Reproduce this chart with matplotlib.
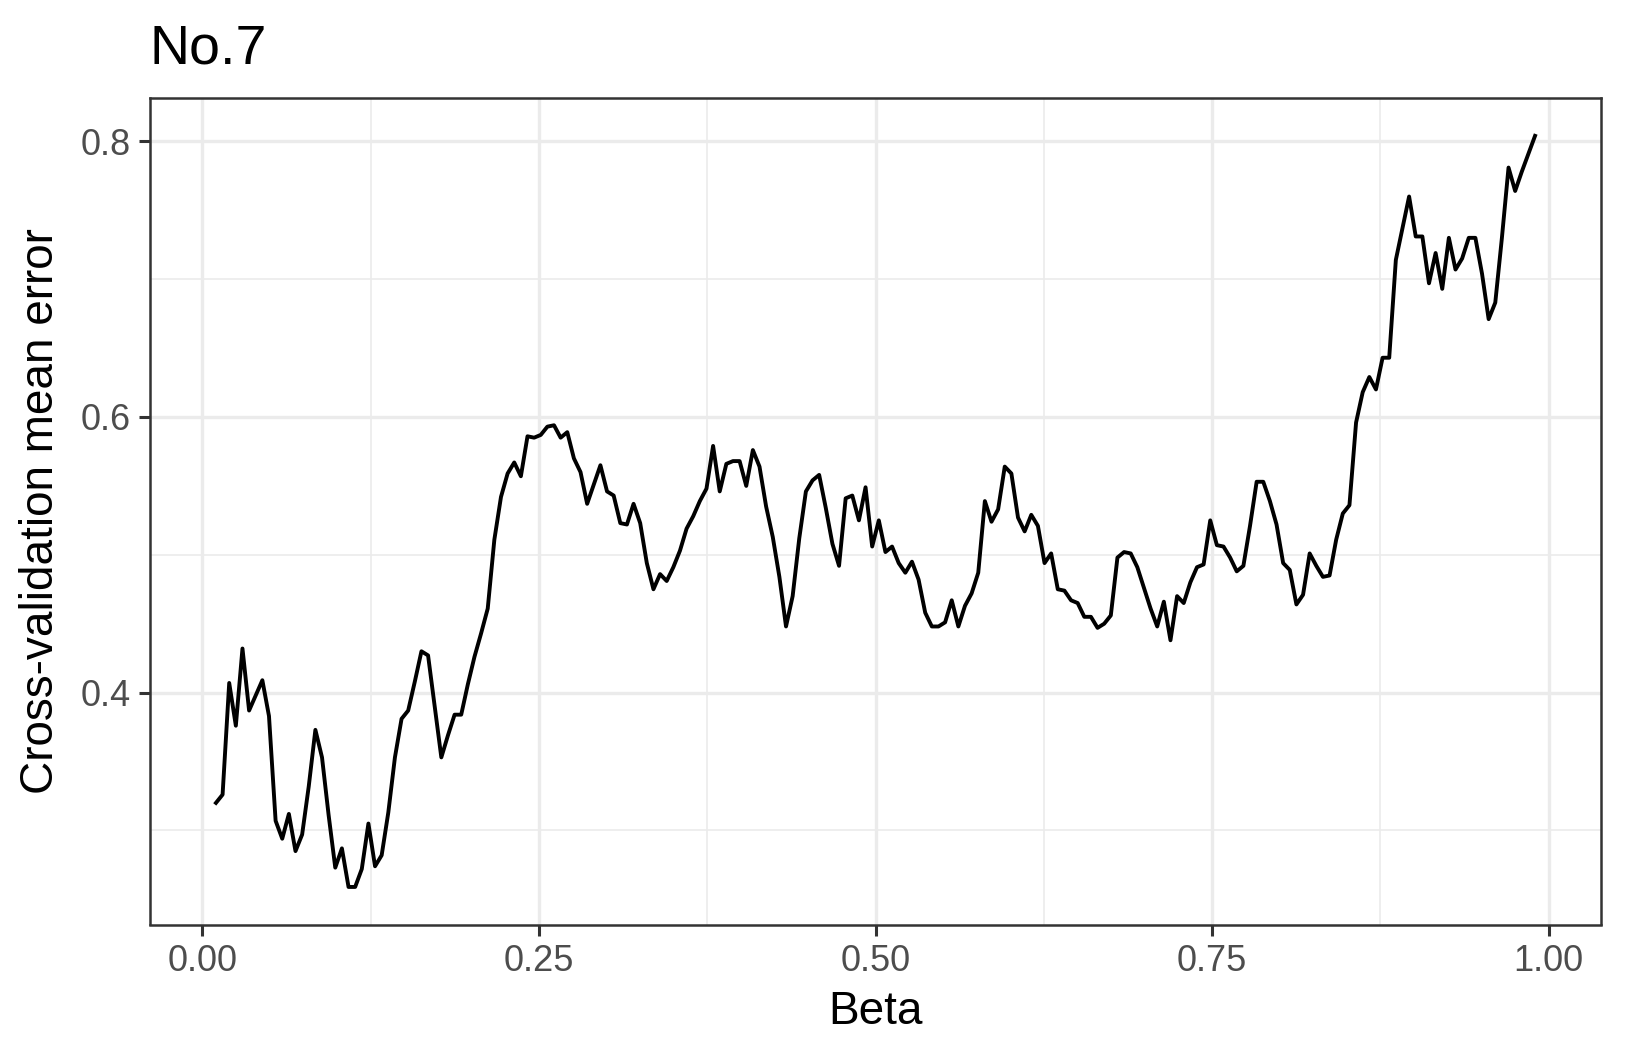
import numpy as np
import matplotlib
matplotlib.use("Agg")
import matplotlib.pyplot as plt
from matplotlib.ticker import FixedLocator

plt.rcParams['font.family'] = ['Liberation Sans', 'DejaVu Sans']

# beta grid: 200 values from 0.01 to 0.99
beta = np.linspace(0.01, 0.99, 200)

# cross-validation mean error
cv_error = [
    0.320, 0.326, 0.407, 0.376, 0.432, 0.387, 0.398, 0.409, 0.383, 0.307,
    0.294, 0.312, 0.285, 0.297, 0.332, 0.373, 0.353, 0.311, 0.273, 0.287,
    0.259, 0.259, 0.272, 0.305, 0.274, 0.282, 0.313, 0.353, 0.381, 0.387,
    0.408, 0.430, 0.427, 0.390, 0.353, 0.369, 0.384, 0.384, 0.406, 0.426,
    0.443, 0.461, 0.511, 0.542, 0.559, 0.567, 0.557, 0.586, 0.585, 0.587,
    0.593, 0.594, 0.585, 0.589, 0.570, 0.560, 0.537, 0.551, 0.565, 0.546,
    0.543, 0.523, 0.522, 0.537, 0.523, 0.494, 0.475, 0.486, 0.481, 0.491,
    0.503, 0.519, 0.528, 0.539, 0.548, 0.579, 0.546, 0.566, 0.568, 0.568,
    0.550, 0.576, 0.564, 0.535, 0.513, 0.484, 0.448, 0.470, 0.512, 0.546,
    0.554, 0.558, 0.534, 0.508, 0.492, 0.541, 0.543, 0.525, 0.549, 0.506,
    0.525, 0.502, 0.506, 0.494, 0.487, 0.495, 0.482, 0.458, 0.448, 0.448,
    0.451, 0.467, 0.448, 0.463, 0.472, 0.487, 0.539, 0.524, 0.533, 0.564,
    0.559, 0.527, 0.517, 0.529, 0.521, 0.494, 0.501, 0.475, 0.474, 0.467,
    0.465, 0.455, 0.455, 0.447, 0.450, 0.456, 0.498, 0.502, 0.501, 0.491,
    0.476, 0.461, 0.448, 0.466, 0.438, 0.470, 0.465, 0.480, 0.491, 0.493,
    0.525, 0.507, 0.506, 0.498, 0.488, 0.492, 0.521, 0.553, 0.553, 0.539,
    0.522, 0.494, 0.489, 0.464, 0.471, 0.501, 0.492, 0.484, 0.485, 0.511,
    0.530, 0.536, 0.596, 0.618, 0.629, 0.620, 0.643, 0.643, 0.714, 0.737,
    0.760, 0.731, 0.731, 0.697, 0.719, 0.693, 0.730, 0.707, 0.715, 0.730,
    0.730, 0.704, 0.671, 0.683, 0.730, 0.781, 0.764, 0.778, 0.791, 0.804,
]

x_ticks = [0.0, 0.25, 0.5, 0.75, 1.0]
x_ticklabels = ["0.00", "0.25", "0.50", "0.75", "1.00"]
x_minor = [0.125, 0.375, 0.625, 0.875]
y_ticks = [0.4, 0.6, 0.8]
y_ticklabels = ["0.4", "0.6", "0.8"]
y_minor = [0.3, 0.5, 0.7]

fig = plt.figure(figsize=(16.25, 10.59), dpi=100)
ax = fig.add_axes([150 / 1625, (1059 - 924.5) / 1059, 1451 / 1625, 826.2 / 1059])

# ggplot-like limits (5% expansion)
ymin, ymax = min(cv_error), max(cv_error)
ypad = (ymax - ymin) * 0.05
xpad = (beta[-1] - beta[0]) * 0.05
ax.set_xlim(beta[0] - xpad, beta[-1] + xpad)
ax.set_ylim(ymin - ypad, ymax + ypad)

# grid
for v in x_minor:
    ax.axvline(v, color='#EBEBEB', lw=1.2, zorder=0)
for v in y_minor:
    ax.axhline(v, color='#EBEBEB', lw=1.2, zorder=0)
for v in x_ticks:
    ax.axvline(v, color='#EBEBEB', lw=2.4, zorder=0)
for v in y_ticks:
    ax.axhline(v, color='#EBEBEB', lw=2.4, zorder=0)

ax.plot(beta, cv_error, color='black', lw=2.8, zorder=3)

ax.xaxis.set_major_locator(FixedLocator(x_ticks))
ax.set_xticklabels(x_ticklabels)
ax.yaxis.set_major_locator(FixedLocator(y_ticks))
ax.set_yticklabels(y_ticklabels)
ax.tick_params(axis='both', which='major', length=8, width=2.2, color='#333333',
               labelcolor='#4D4D4D', labelsize=26, pad=6)

for s in ax.spines.values():
    s.set_color('#333333')
    s.set_linewidth(1.8)

ax.set_xlabel('Beta', fontsize=33, color='black')
ax.set_ylabel('Cross-validation mean error', fontsize=33, color='black')
ax.xaxis.label.set_va('center')
ax.yaxis.label.set_va('center')
ax.xaxis.set_label_coords(0.5, (924.5 - 1012) / 826.2)
ax.yaxis.set_label_coords((41.5 - 150) / 1451, 0.5)

fig.text(150 / 1625, 1 - 64 / 1059, 'No.7', fontsize=40, color='black',
         ha='left', va='baseline')

fig.savefig('out.png', dpi=100)
